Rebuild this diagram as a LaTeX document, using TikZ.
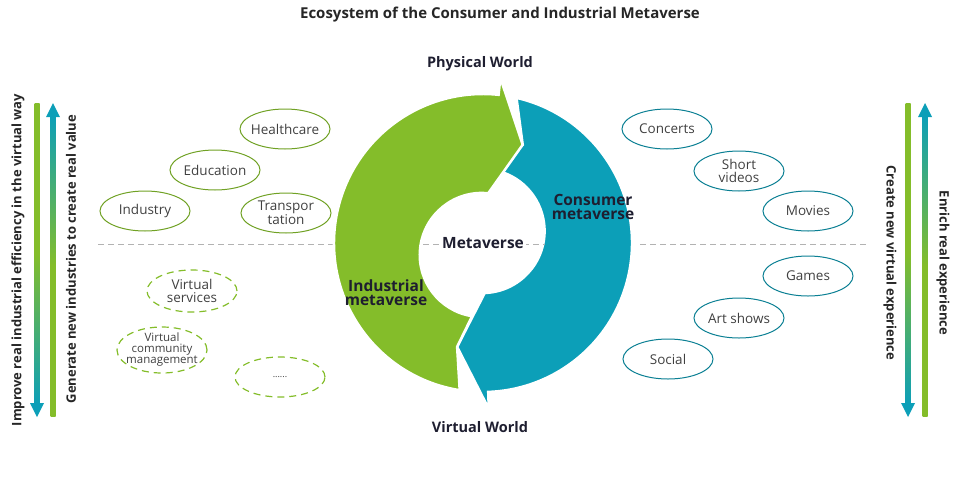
\documentclass[tikz,border=0pt]{standalone}
\usepackage{fontspec}
\setmainfont{Open Sans}
\usetikzlibrary{shapes.geometric}
\definecolor{mgreen}{HTML}{84BD2A}
\definecolor{mteal}{HTML}{0C9FB8}
\definecolor{dtext}{HTML}{1E1E30}
\begin{document}
\begin{tikzpicture}[x=1pt,y=-1pt,
  lbl/.style={font=\fontsize{13.5}{13}\selectfont, text=black!75, align=center, inner sep=0pt},
  gell/.style={ellipse, draw=mgreen!85!black, line width=1pt, minimum width=90pt, minimum height=40pt},
  tell/.style={ellipse, draw=mteal!80!black, line width=1pt, minimum width=90pt, minimum height=40pt},
  dell/.style={gell, dashed, dash pattern=on 7pt off 5pt, line width=1.2pt, draw=mgreen},
  side/.style={font=\bfseries\fontsize{13}{13}\selectfont, text=black!85},
  ring/.style={font=\bfseries\fontsize{15.5}{15}\selectfont, text=dtext, align=center, inner sep=0pt}]
\useasboundingbox (0,0) rectangle (967,488);
% title
\node[font=\bfseries\fontsize{15}{15}\selectfont, text=black!85] (title) at (500,15) {Ecosystem of the Consumer and Industrial Metaverse};
% dashed lines
\coordinate (dl1) at (98,244); \coordinate (dl2) at (345,244);
\coordinate (dr1) at (640,244); \coordinate (dr2) at (866,244);
\draw[gray!60, line width=1pt, dash pattern=on 6pt off 4pt] (dl1) -- (dl2) (dr1) -- (dr2);
% ring
\begin{scope}[shift={(483,243)}, x=1pt, y=1pt]
\filldraw[fill=mteal, draw=white, line width=2.5pt]
  (77:149pt) arc[start angle=77, end angle=-88, radius=149pt]
  -- (-88:166pt) -- (-104:107pt) -- (-88:50pt)
  arc[start angle=-88, end angle=77, radius=62pt]
  -- (68:106pt) -- cycle;
\filldraw[fill=mgreen, draw=white, line width=2.5pt]
  (261:149pt) arc[start angle=261, end angle=84, radius=149pt]
  -- (84:166pt) -- (68:106pt) -- (84:50pt)
  arc[start angle=84, end angle=261, radius=62pt]
  -- (256:107pt) -- cycle;
\end{scope}
\coordinate (dc1) at (423,244); \coordinate (dc2) at (545,244);
\draw[gray!60, line width=1pt, dash pattern=on 6pt off 4pt] (dc1) -- (dc2);
\node[ring, fill=white, inner sep=2pt] (meta) at (483,243) {Metaverse};
\node[ring] (cons) at (593,207) {Consumer\\[-1pt]metaverse};
\node[ring] (ind) at (386,293) {Industrial\\[-1pt]metaverse};
\node[ring, font=\bfseries\fontsize{14.5}{14}\selectfont] (phys) at (480,64) {Physical World};
\node[ring, font=\bfseries\fontsize{14.5}{14}\selectfont] (virt) at (480,427) {Virtual World};
% left ellipses
\node[gell] (health) at (285,129) {};
\node[lbl] at (health) {Healthcare};
\node[gell] (edu) at (215,170) {};
\node[lbl] at (edu) {Education};
\node[gell] (indus) at (145,211) {};
\node[lbl] at (indus) {Industry};
\node[gell] (trans) at (286,213) {};
\node[lbl] at (trans) {Transpor\\tation};
\node[dell, minimum height=42pt] (vserv) at (192,291) {};
\node[lbl] at (vserv) {Virtual\\services};
\node[dell, minimum height=46pt] (vcom) at (162,350) {};
\node[lbl, font=\fontsize{11.5}{11}\selectfont] at (vcom) {Virtual\\community\\management};
\node[dell] (dots) at (280,377) {};
\node[lbl, font=\fontsize{9}{9}\selectfont] at (dots) {......};
% right ellipses
\node[tell] (conc) at (667,129) {};
\node[lbl] at (conc) {Concerts};
\node[tell] (short) at (739,171) {};
\node[lbl] at (short) {Short\\videos};
\node[tell] (movies) at (808,211) {};
\node[lbl] at (movies) {Movies};
\node[tell] (games) at (808,276) {};
\node[lbl] at (games) {Games};
\node[tell] (art) at (739,318) {};
\node[lbl] at (art) {Art shows};
\node[tell] (social) at (668,359) {};
\node[lbl] at (social) {Social};
% side arrows: down arrows (green top -> teal)
\foreach \xx in {37,908}{
  \shade[top color=mgreen, bottom color=mteal, middle color=mgreen] (\xx-2.5,103) rectangle (\xx+2.5,405);
  \fill[mteal] (\xx-7,403) -- (\xx+7,403) -- (\xx,417) -- cycle;
}
% up arrows (teal top -> green)
\foreach \xx in {53,925}{
  \shade[top color=mteal, bottom color=mgreen, middle color=mgreen] (\xx-2.5,115) rectangle (\xx+2.5,416);
  \fill[mteal] (\xx-7,117) -- (\xx+7,117) -- (\xx,103) -- cycle;
}
\node[side, rotate=90] (t1) at (18,260) {Improve real industrial efficiency in the virtual way};
\node[side, rotate=90] (t2) at (71,259) {Generate new industries to create real value};
\node[side, rotate=-90] (t3) at (890,263) {Create new virtual experience};
\node[side, rotate=-90] (t4) at (943,263) {Enrich real experience};
\end{tikzpicture}
\end{document}
